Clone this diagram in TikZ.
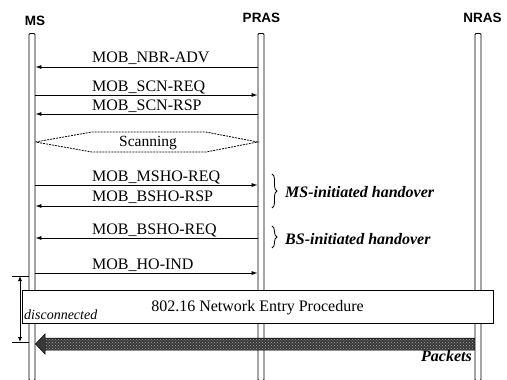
\documentclass[tikz,border=0pt]{standalone}
\usepackage{fontspec}
\setmainfont{Liberation Serif}
\newfontfamily\hdrfont{Liberation Sans}
\usetikzlibrary{decorations.pathreplacing,arrows.meta,patterns}
\begin{document}
\begin{tikzpicture}[x=1pt,y=-1pt,
  lifebar/.style={draw, line width=0.9pt, fill=white, minimum width=6pt,
    minimum height=347pt, inner sep=0pt, anchor=north, rounded corners=1pt},
  hdr/.style={font=\hdrfont\bfseries\fontsize{13.5}{15}\selectfont, inner sep=0pt},
  msg/.style={line width=0.8pt, -{Latex[length=6pt,width=4pt]}},
  msglabel/.style={font=\fontsize{16}{18}\selectfont, inner sep=0pt, anchor=base west},
  notelabel/.style={font=\bfseries\itshape\fontsize{16}{18}\selectfont, inner sep=0pt, anchor=base west},
  bracestyle/.style={line width=0.8pt, decorate, decoration={brace, amplitude=5pt}},
]
\useasboundingbox (0,0) rectangle (507,380);

% headers
\node[hdr] (msh) at (35,21) {MS};
\node[hdr] (prash) at (261.5,18) {PRAS};
\node[hdr] (nrash) at (482.5,18) {NRAS};

% lifelines
\node[lifebar] (ms) at (32,33) {};
\node[lifebar] (pras) at (261,33) {};
\node[lifebar] (nras) at (478,33) {};

% messages
\draw[msg] (pras.west |- 0,67) -- (ms.east |- 0,67);
\node[msglabel] (l1) at (92,63) {MOB\_NBR-ADV};

\draw[msg] (ms.east |- 0,95) -- (pras.west |- 0,95);
\node[msglabel] (l2) at (92,91.5) {MOB\_SCN-REQ};

\draw[msg] (pras.west |- 0,114) -- (ms.east |- 0,114);
\node[msglabel] (l3) at (92,110) {MOB\_SCN-RSP};

% scanning
\draw[line width=0.8pt, dash pattern=on 2pt off 1pt]
  (ms.east |- 0,142) -- (92,132) -- (206,132) -- (pras.west |- 0,142)
  -- (206,152) -- (92,152) -- cycle;
\node[font=\fontsize{15.5}{18}\selectfont, inner sep=0pt, anchor=base] (scan) at (148,146.5) {Scanning};

\draw[msg] (ms.east |- 0,185) -- (pras.west |- 0,185);
\node[msglabel] (l4) at (92,181.5) {MOB\_MSHO-REQ};

\draw[msg] (pras.west |- 0,206) -- (ms.east |- 0,206);
\node[msglabel] (l5) at (92,201) {MOB\_BSHO-RSP};

\draw[msg] (pras.west |- 0,238) -- (ms.east |- 0,238);
\node[msglabel] (l6) at (92,234.5) {MOB\_BSHO-REQ};

\draw[msg] (ms.east |- 0,273) -- (pras.west |- 0,273);
\node[msglabel] (l7) at (92,269.5) {MOB\_HO-IND};

% braces
\draw[bracestyle] (272,174) -- (272,208);
\node[notelabel] (msinit) at (285,197) {MS-initiated handover};
\draw[bracestyle] (272,226) -- (272,248);
\node[notelabel] (bsinit) at (285,244) {BS-initiated handover};

% disconnected dimension
\coordinate (dtop) at (20,276);
\coordinate (dbot) at (20,342);
\draw[line width=0.8pt] (12,276) -- (ms.west |- 0,276);
\draw[line width=0.8pt] (12,342) -- (ms.west |- 0,342);
\draw[line width=0.8pt, {Latex[length=5pt,width=4pt]}-{Latex[length=5pt,width=4pt]}] (dtop) -- (dbot);

% network entry box
\node[draw, line width=0.9pt, fill=white, minimum width=471pt, minimum height=33pt,
  inner sep=0pt, anchor=north west] (entry) at (22,290) {};
\node[font=\fontsize{16}{18}\selectfont, inner sep=0pt, anchor=base] (entrytxt) at (257.5,311.5) {802.16 Network Entry Procedure};
\node[font=\itshape\fontsize{14}{16}\selectfont, inner sep=0pt, anchor=base west] (disc) at (24,319) {disconnected};

% packets
\path[fill=black!78, draw=black, line width=0.5pt]
  (nras.west |- 0,338) -- (45,338) -- (45,334) -- (ms.east |- 0,344) -- (45,354)
  -- (45,350) -- (nras.west |- 0,350) -- cycle;
\path[pattern=crosshatch dots, pattern color=black!35]
  (nras.west |- 0,339) rectangle (46,349);
\node[font=\bfseries\itshape\fontsize{16}{18}\selectfont, inner sep=0pt, anchor=base east] (pk) at (472,361) {Packets};
\end{tikzpicture}
\end{document}
